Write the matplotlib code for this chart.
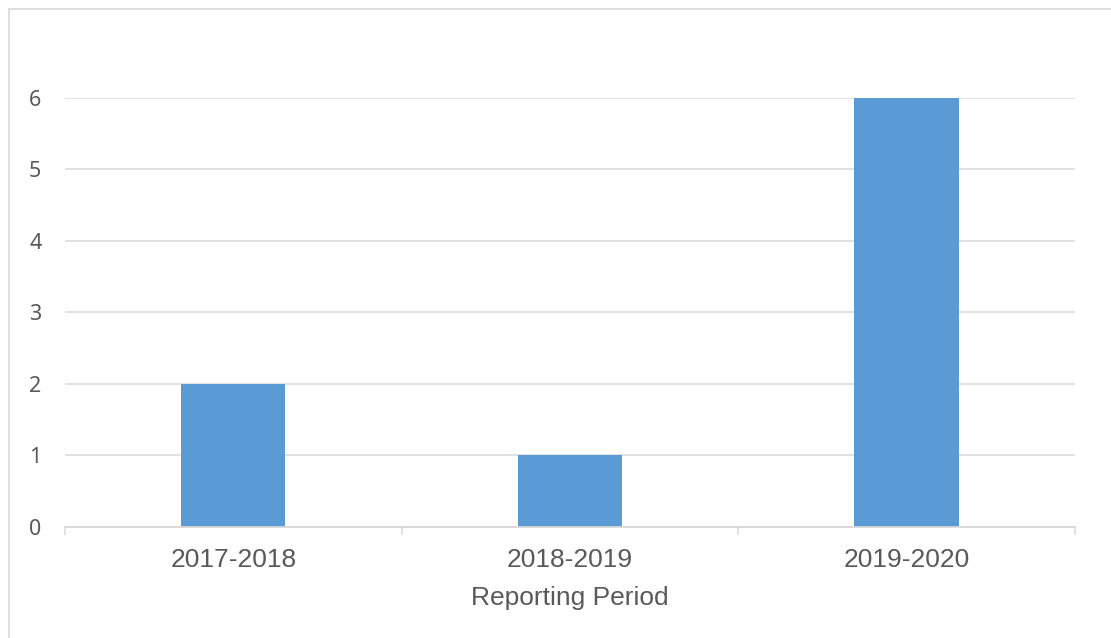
import numpy as np
import matplotlib.pyplot as plt
from matplotlib.lines import Line2D

periods = ['2017-2018', '2018-2019', '2019-2020']
counts = [2, 1, 6]

bar_color = '#5B9BD5'
grid_color = '#D9D9D9'
text_color = '#595959'

fig = plt.figure(figsize=(11.11, 6.38), dpi=100)
ax = fig.add_axes([0.0585, 0.174, 0.909, 0.6726])

x = np.arange(len(periods))
ax.bar(x, counts, width=0.31, color=bar_color, zorder=3)

ax.set_xlim(-0.5, len(periods) - 0.5)
ax.set_ylim(0, 6)
ax.set_yticks(range(0, 7))
ax.yaxis.grid(True, color=grid_color, linewidth=1.1, zorder=0)
ax.set_axisbelow(True)

for s in ['top', 'right', 'left']:
    ax.spines[s].set_visible(False)
ax.spines['bottom'].set_color(grid_color)
ax.spines['bottom'].set_linewidth(1.3)
ax.spines['bottom'].set_zorder(4)

ax.set_xticks(x)
ax.set_xticklabels(periods, fontsize=19, color=text_color, family='Liberation Sans')
ax.set_xticks(np.arange(-0.5, len(periods)), minor=True)
ax.tick_params(axis='x', which='major', length=0, pad=15)
ax.tick_params(axis='x', which='minor', length=6, width=1.1, color=grid_color)
ax.tick_params(axis='y', length=0, pad=17)
for lbl in ax.get_yticklabels():
    lbl.set_fontsize(15.5)
    lbl.set_color(text_color)
    lbl.set_family('Noto Sans')

ax.set_xlabel('Reporting Period', fontsize=19, color=text_color,
              family='Liberation Sans', labelpad=10)

# chart area border (left and top edges)
fig.add_artist(Line2D([8.5 / 1111, 8.5 / 1111], [0, 1 - 8.5 / 638],
                      transform=fig.transFigure, color=grid_color, linewidth=1.2))
fig.add_artist(Line2D([8.5 / 1111, 1], [1 - 8.5 / 638, 1 - 8.5 / 638],
                      transform=fig.transFigure, color=grid_color, linewidth=1.2))

fig.savefig('out.png', dpi=100)
